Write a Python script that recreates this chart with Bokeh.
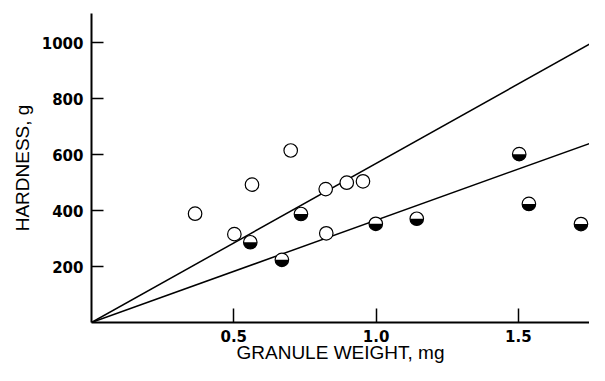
import math
from bokeh.plotting import figure
from bokeh.models import Range1d, FixedTicker, NumeralTickFormatter
from bokeh.embed import file_html
from bokeh.resources import INLINE

# open circles
open_x = [0.364, 0.502, 0.564, 0.700, 0.823, 0.825, 0.897, 0.954]
open_y = [389, 316, 493, 615, 477, 319, 500, 505]

# half-filled circles
half_x = [0.558, 0.669, 0.736, 0.999, 1.143, 1.503, 1.537, 1.720, 1.780, 1.810]
half_y = [287, 224, 388, 353, 371, 602, 424, 352, 698, 360]

# fitted lines through the origin (end points)
line_x = [0.0, 1.9]
upper_y = [0.0, 1081.0]
lower_y = [0.0, 695.0]

x_ticks = [0.5, 1.0, 1.5]
y_ticks = [200, 400, 600, 800, 1000]

p = figure(width=589, height=365, output_backend="svg", toolbar_location=None,
           x_range=Range1d(0, 1.75), y_range=Range1d(0, 1105),
           min_border_left=91, min_border_right=0, min_border_top=13,
           min_border_bottom=0)
p.outline_line_color = None
p.grid.visible = False
p.background_fill_color = "white"
p.border_fill_color = "white"

for ax in (p.xaxis[0], p.yaxis[0]):
    ax.axis_line_width = 2
    ax.axis_line_color = "black"
    ax.major_tick_line_width = 1.5
    ax.major_tick_line_color = "black"
    ax.major_tick_out = 0
    ax.minor_tick_line_color = None
    ax.major_label_text_font = "DejaVu Sans"
    ax.major_label_text_font_style = "bold"
    ax.major_label_text_font_size = "15px"
    ax.major_label_text_color = "black"
    ax.axis_label_text_font = "Liberation Sans"
    ax.axis_label_text_font_style = "normal"
    ax.axis_label_text_font_size = "19px"
    ax.axis_label_text_color = "black"

p.xaxis.ticker = FixedTicker(ticks=x_ticks)
p.xaxis.formatter = NumeralTickFormatter(format="0.0")
p.xaxis.major_tick_in = 14
p.xaxis.major_label_standoff = 7
p.xaxis.axis_label = "GRANULE WEIGHT, mg"
p.xaxis.axis_label_standoff = -3

p.yaxis.ticker = FixedTicker(ticks=y_ticks)
p.yaxis.major_tick_in = 12
p.yaxis.major_label_standoff = 8
p.yaxis.axis_label = "HARDNESS, g"
p.yaxis.axis_label_standoff = 6

p.line(line_x, upper_y, line_color="black", line_width=1.5)
p.line(line_x, lower_y, line_color="black", line_width=1.5)

p.scatter(open_x, open_y, size=13.5, marker="circle", fill_color="white",
          line_color="black", line_width=1.2)

p.scatter(half_x, half_y, size=13.5, marker="circle", fill_color="white",
          line_color=None)
p.wedge(x=half_x, y=half_y, radius=6.75, radius_units="screen",
        start_angle=math.pi, end_angle=2 * math.pi, fill_color="black",
        line_color=None)
p.scatter(half_x, half_y, size=13.5, marker="circle", fill_color=None,
          line_color="black", line_width=1.2)

open("out.html", "w").write(file_html(p, INLINE))
